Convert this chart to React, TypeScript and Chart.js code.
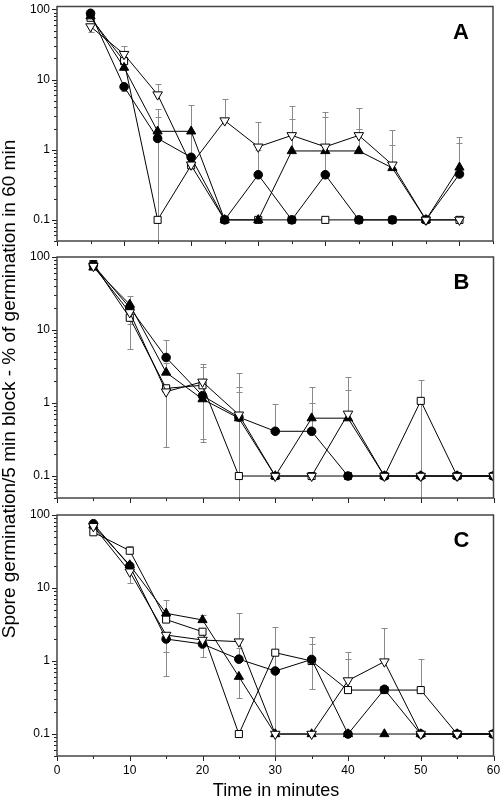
import React, { useEffect, useRef } from "react";
import { Chart, registerables } from "chart.js";

Chart.register(...registerables);

const FONT = "'Liberation Sans', Arial, Helvetica, sans-serif";

// Sampling times (minutes)
const TIMES = [5, 10, 15, 20, 25, 30, 35, 40, 45, 50, 55, 60];
const Y_TICKS = [0.1, 1, 10, 100];
const X_TICKS = [0, 10, 20, 30, 40, 50, 60];

// ---------- Panel A ----------
const A_NABLA = [57, 23, 6.1, 0.61, 2.6, 1.1, 1.6, 1.1, 1.6, 0.61, 0.1, 0.1];
const A_NABLA_HI = [null, 30, 8.6, null, 5.3, 2.5, 4.2, 3.5, 3.9, 1.93, null, null];
const A_NABLA_LO = [47, null, null, null, null, null, null, null, null, null, null, null];
const A_CIRCLE = [88, 7.9, 1.45, 0.78, 0.1, 0.44, 0.1, 0.44, 0.1, 0.1, 0.1, 0.45];
const A_CIRCLE_HI = [null, null, 2.9, 1.75, null, 1.0, null, 2.9, null, null, null, 1.23];
const A_CIRCLE_LO = [null, 6.8, null, null, null, null, null, null, null, null, null, null];
const A_TRI = [80, 14.8, 1.83, 1.83, 0.1, 0.1, 0.96, 0.96, 0.96, 0.55, 0.1, 0.56];
const A_TRI_HI = [null, null, 3.8, 4.3, null, null, 2.7, null, 2.0, 1.16, null, 1.52];
const A_TRI_LO = [null, null, 0, null, null, null, null, null, null, null, null, null];
const A_SQUARE = [76, 18.3, 0.1, 0.6, 0.1, 0.1, 0.1, 0.1, 0.1, 0.1, 0.1, 0.1];
const A_SQUARE_HI = [null, 21, null, null, null, null, null, null, null, null, null, null];
const A_SQUARE_LO = [null, null, null, null, null, null, null, null, null, null, null, null];

// ---------- Panel B ----------
const B_NABLA = [75, 17.4, 1.43, 1.95, 0.69, 0.1, 0.1, 0.71, 0.1, 0.1, 0.1, 0.1];
const B_NABLA_HI = [null, null, null, 3.4, 2.6, null, null, 2.3, null, null, null, null];
const B_NABLA_LO = [null, null, 0.25, null, 0, null, null, null, null, null, null, null];
const B_CIRCLE = [78, 20.2, 4.2, 1.26, 0.64, 0.41, 0.41, 0.1, 0.1, 0.1, 0.1, 0.1];
const B_CIRCLE_HI = [null, null, 7.3, null, 1.4, 0.97, 1.0, null, null, null, null, null];
const B_CIRCLE_LO = [null, 5.5, null, 0.29, null, null, null, null, null, null, null, null];
const B_TRI = [72, 22.4, 2.62, 1.13, 0.62, 0.1, 0.62, 0.62, 0.1, 0.1, 0.1, 0.1];
const B_TRI_HI = [null, 29, 3.5, 3.1, 1.65, null, 1.65, 1.52, null, null, null, null];
const B_TRI_LO = [null, null, null, 0.32, null, null, null, null, null, null, null, null];
const B_SQUARE = [80, 14.7, 1.59, 1.75, 0.1, 0.1, 0.1, 0.1, 0.1, 1.07, 0.1, 0.1];
const B_SQUARE_HI = [null, null, null, null, null, null, null, null, null, 2.06, null, null];
const B_SQUARE_LO = [null, 12, null, null, null, null, null, null, null, 0, null, null];

// ---------- Panel C ----------
const C_NABLA = [70, 16.7, 2.27, 1.94, 1.84, 0.1, 0.1, 0.54, 0.98, 0.1, 0.1, 0.1];
const C_NABLA_HI = [null, null, null, null, 4.6, null, null, 1.34, 2.83, null, null, null];
const C_NABLA_LO = [null, 11.7, 1.34, null, null, null, null, null, null, null, null, null];
const C_CIRCLE = [76, 20, 2.0, 1.71, 1.06, 0.73, 1.05, 0.1, 0.41, 0.1, 0.1, 0.1];
const C_CIRCLE_HI = [null, null, null, null, 1.5, null, 2.15, null, null, null, null, null];
const C_CIRCLE_LO = [null, null, 0.62, 1.12, null, null, 0.41, null, null, null, null, null];
const C_TRI = [72, 20.6, 4.5, 3.65, 0.61, 0.1, 0.1, 0.1, 0.1, 0.1, 0.1, 0.1];
const C_TRI_HI = [null, null, 6.8, 4.3, null, null, null, null, null, null, null, null];
const C_TRI_LO = [null, null, null, null, 0.31, null, null, null, null, null, null, null];
const C_SQUARE = [58, 32.4, 3.7, 2.52, 0.1, 1.3, 1.0, 0.4, 0.4, 0.4, 0.1, 0.1];
const C_SQUARE_HI = [null, 37.6, null, null, null, 2.95, 1.71, 1.05, null, 1.05, null, null];
const C_SQUARE_LO = [null, null, null, null, null, 0, null, null, null, null, null, null];

type Series = { values: number[]; hi: (number | null)[]; lo: (number | null)[] };

const makeDatasets = (nabla: Series, circle: Series, tri: Series, square: Series) => {
  const base = {
    borderColor: "#000",
    borderWidth: 1,
    tension: 0,
    pointBorderColor: "#000",
    pointBorderWidth: 1,
    pointHoverRadius: 5,
  };
  return [
    {
      ...base,
      label: "nabla",
      data: TIMES.map((t, i) => ({ x: t, y: nabla.values[i] })),
      errHi: nabla.hi,
      errLo: nabla.lo,
      pointStyle: "triangle",
      rotation: 180,
      pointRotation: 180,
      pointRadius: 5.5,
      pointBackgroundColor: "#fff",
    },
    {
      ...base,
      label: "circle",
      data: TIMES.map((t, i) => ({ x: t, y: circle.values[i] })),
      errHi: circle.hi,
      errLo: circle.lo,
      pointStyle: "circle",
      pointRadius: 4.3,
      pointBackgroundColor: "#000",
    },
    {
      ...base,
      label: "triangle",
      data: TIMES.map((t, i) => ({ x: t, y: tri.values[i] })),
      errHi: tri.hi,
      errLo: tri.lo,
      pointStyle: "triangle",
      pointRadius: 5.3,
      pointBackgroundColor: "#000",
    },
    {
      ...base,
      label: "square",
      data: TIMES.map((t, i) => ({ x: t, y: square.values[i] })),
      errHi: square.hi,
      errLo: square.lo,
      pointStyle: "rect",
      pointRadius: 5,
      pointBackgroundColor: "#fff",
    },
  ];
};

const errorBarPlugin = {
  id: "errbars",
  beforeDatasetsDraw(chart: any) {
    const { ctx, chartArea: a } = chart;
    const ys = chart.scales.y;
    ctx.save();
    ctx.beginPath();
    ctx.rect(a.left, a.top, a.right - a.left, a.bottom - a.top);
    ctx.clip();
    ctx.strokeStyle = "#8a8a8a";
    ctx.lineWidth = 1;
    chart.data.datasets.forEach((ds: any, i: number) => {
      const meta = chart.getDatasetMeta(i);
      meta.data.forEach((pt: any, j: number) => {
        const px = Math.round(pt.x) + 0.5;
        [ds.errHi, ds.errLo].forEach((arr: any) => {
          const v = arr ? arr[j] : null;
          if (v === null || v === undefined) return;
          const ey = v <= 0 ? a.bottom + 2 : Math.round(ys.getPixelForValue(v)) + 0.5;
          ctx.beginPath();
          ctx.moveTo(px, pt.y);
          ctx.lineTo(px, ey);
          ctx.stroke();
          if (v > 0) {
            ctx.beginPath();
            ctx.moveTo(px - 3, ey);
            ctx.lineTo(px + 3, ey);
            ctx.stroke();
          }
        });
      });
    });
    ctx.restore();
  },
};

const makeFramePlugin = (letter: string) => ({
  id: "frame",
  afterDraw(chart: any) {
    const { ctx, chartArea: a } = chart;
    const xs = chart.scales.x;
    const ys = chart.scales.y;
    ctx.save();
    ctx.strokeStyle = "#222";
    ctx.lineWidth = 1;
    for (let e = -2; e <= 2; e++) {
      for (let m = 1; m <= 9; m++) {
        const v = m * Math.pow(10, e);
        if (v < ys.min * 0.999 || v > ys.max * 1.001) continue;
        const py = Math.round(ys.getPixelForValue(v)) + 0.5;
        const len = m === 1 ? 5 : 3;
        ctx.beginPath();
        ctx.moveTo(a.left - len, py);
        ctx.lineTo(a.left, py);
        ctx.stroke();
      }
    }
    for (let t = 0; t <= xs.max + 0.01; t += 5) {
      const px = Math.round(xs.getPixelForValue(t)) + 0.5;
      const len = t % 10 === 0 ? 5 : 3;
      ctx.beginPath();
      ctx.moveTo(px, a.bottom);
      ctx.lineTo(px, a.bottom + len);
      ctx.stroke();
    }
    ctx.strokeStyle = "#444";
    ctx.lineWidth = 1.5;
    ctx.strokeRect(a.left, a.top, a.right - a.left, a.bottom - a.top);
    ctx.fillStyle = "#000";
    ctx.font = `bold 22px ${FONT}`;
    ctx.textAlign = "center";
    ctx.textBaseline = "middle";
    ctx.fillText(letter, a.right - 32, a.top + 26);
    ctx.restore();
  },
});

type PanelCfg = {
  letter: string;
  top: number;
  height: number;
  padTop: number;
  padRight: number;
  axisH: number;
  xMax: number;
  yMax: number;
  showX: boolean;
  datasets: any[];
};

const PANELS: PanelCfg[] = [
  {
    letter: "A",
    top: 0,
    height: 252,
    padTop: 3,
    padRight: 7,
    axisH: 11,
    xMax: 65,
    yMax: 110,
    showX: false,
    datasets: makeDatasets(
      { values: A_NABLA, hi: A_NABLA_HI, lo: A_NABLA_LO },
      { values: A_CIRCLE, hi: A_CIRCLE_HI, lo: A_CIRCLE_LO },
      { values: A_TRI, hi: A_TRI_HI, lo: A_TRI_LO },
      { values: A_SQUARE, hi: A_SQUARE_HI, lo: A_SQUARE_LO }
    ),
  },
  {
    letter: "B",
    top: 250,
    height: 255,
    padTop: 7,
    padRight: 6,
    axisH: 7,
    xMax: 60,
    yMax: 100,
    showX: false,
    datasets: makeDatasets(
      { values: B_NABLA, hi: B_NABLA_HI, lo: B_NABLA_LO },
      { values: B_CIRCLE, hi: B_CIRCLE_HI, lo: B_CIRCLE_LO },
      { values: B_TRI, hi: B_TRI_HI, lo: B_TRI_LO },
      { values: B_SQUARE, hi: B_SQUARE_HI, lo: B_SQUARE_LO }
    ),
  },
  {
    letter: "C",
    top: 505,
    height: 294,
    padTop: 10,
    padRight: 6,
    axisH: 43,
    xMax: 60,
    yMax: 100,
    showX: true,
    datasets: makeDatasets(
      { values: C_NABLA, hi: C_NABLA_HI, lo: C_NABLA_LO },
      { values: C_CIRCLE, hi: C_CIRCLE_HI, lo: C_CIRCLE_LO },
      { values: C_TRI, hi: C_TRI_HI, lo: C_TRI_LO },
      { values: C_SQUARE, hi: C_SQUARE_HI, lo: C_SQUARE_LO }
    ),
  },
];

function Panel({ cfg }: { cfg: PanelCfg }) {
  const ref = useRef<HTMLCanvasElement | null>(null);
  useEffect(() => {
    if (!ref.current) return;
    const chart = new Chart(ref.current, {
      type: "line",
      data: { datasets: cfg.datasets },
      options: {
        responsive: false,
        animation: false,
        devicePixelRatio: 1,
        layout: { padding: { top: cfg.padTop, right: cfg.padRight, left: 0, bottom: 0 } },
        plugins: { legend: { display: false }, tooltip: { enabled: false } },
        scales: {
          x: {
            type: "linear",
            min: 0,
            max: cfg.xMax,
            grid: { display: false, drawTicks: false, tickLength: 0 },
            border: { display: false },
            ticks: {
              display: cfg.showX,
              padding: 7,
              color: "#000",
              font: { size: 12, family: FONT },
              autoSkip: false,
              maxRotation: 0,
            },
            afterBuildTicks: (s: any) => {
              s.ticks = X_TICKS.filter((v) => v <= cfg.xMax).map((v) => ({ value: v }));
            },
            afterFit: (s: any) => {
              s.height = cfg.axisH;
              s.paddingLeft = 0;
              s.paddingRight = 0;
            },
          },
          y: {
            type: "logarithmic",
            min: 0.05,
            max: cfg.yMax,
            grid: { display: false, drawTicks: false, tickLength: 0 },
            border: { display: false },
            ticks: {
              padding: 7,
              color: "#000",
              font: { size: 12, family: FONT },
              autoSkip: false,
              callback: (v: any) => String(v),
            },
            afterBuildTicks: (s: any) => {
              s.ticks = Y_TICKS.map((v) => ({ value: v }));
            },
            afterFit: (s: any) => {
              s.width = 57;
              s.paddingTop = 0;
              s.paddingBottom = 0;
            },
          },
        },
      } as any,
      plugins: [errorBarPlugin, makeFramePlugin(cfg.letter)],
    });
    return () => chart.destroy();
  }, [cfg]);
  return (
    <canvas
      ref={ref}
      width={500}
      height={cfg.height}
      style={{ position: "absolute", left: 0, top: cfg.top, width: 500, height: cfg.height }}
    />
  );
}

export default function App() {
  return (
    <div
      style={{
        position: "absolute",
        left: 0,
        top: 0,
        width: 500,
        height: 799,
        background: "#fff",
        overflow: "hidden",
        fontFamily: FONT,
      }}
    >
      {PANELS.map((p) => (
        <Panel key={p.letter} cfg={p} />
      ))}
      <div
        style={{
          position: "absolute",
          left: 9 - 300,
          top: 389 - 11,
          width: 600,
          height: 22,
          lineHeight: "22px",
          textAlign: "center",
          fontSize: 19,
          color: "#000",
          transform: "rotate(-90deg)",
          transformOrigin: "50% 50%",
          whiteSpace: "nowrap",
        }}
      >
        Spore germination/5 min block - % of germination in 60 min
      </div>
      <div
        style={{
          position: "absolute",
          left: 276 - 150,
          top: 780,
          width: 300,
          height: 20,
          lineHeight: "20px",
          textAlign: "center",
          fontSize: 18,
          color: "#000",
          whiteSpace: "nowrap",
        }}
      >
        Time in minutes
      </div>
    </div>
  );
}
